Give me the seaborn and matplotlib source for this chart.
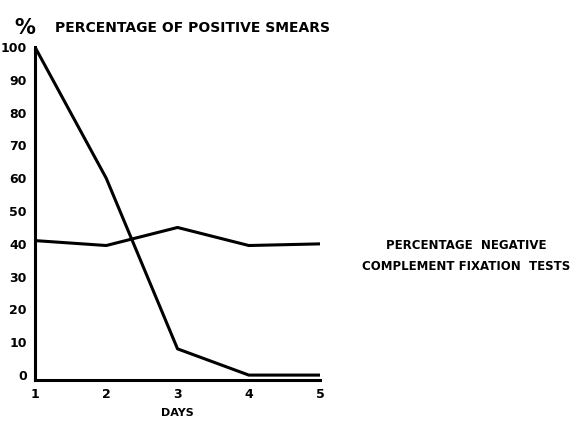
import pandas as pd
import seaborn as sns
import matplotlib.pyplot as plt

plt.switch_backend('Agg')

# Data
days = [1, 2, 3, 4, 5]
positive_smears = [100, 60, 8, 0, 0]
negative_cf_tests = [41, 39.5, 45, 39.5, 40]
y_ticks = [0, 10, 20, 30, 40, 50, 60, 70, 80, 90, 100]

df = pd.DataFrame({
    'Day': days * 2,
    'Percent': positive_smears + negative_cf_tests,
    'Series': ['Positive smears'] * 5 + ['Negative CF tests'] * 5,
})

sns.set_style('white')
plt.rcParams['font.family'] = ['DejaVu Sans']
plt.rcParams['text.color'] = 'black'
plt.rcParams['xtick.color'] = 'black'
plt.rcParams['ytick.color'] = 'black'
plt.rcParams['axes.labelcolor'] = 'black'

fig = plt.figure(figsize=(5.83, 4.22), dpi=100)
ax = fig.add_axes([0.060, 0.0995, 0.489, 0.789])

sns.lineplot(data=df, x='Day', y='Percent', units='Series', estimator=None,
             color='black', linewidth=2.2, ax=ax, legend=False)

ax.set_xlim(1, 5)
ax.set_ylim(-1.5, 100)
ax.set_xticks(days)
ax.set_xticklabels([str(d) for d in days], fontsize=9, fontweight='bold')
ax.set_yticks(y_ticks)
ax.set_yticklabels([str(t) for t in y_ticks], fontsize=9, fontweight='bold')
ax.tick_params(length=0, pad=6)
ax.set_xlabel('DAYS', fontsize=8, fontweight='bold', labelpad=5)
ax.set_ylabel('')

for side in ['top', 'right']:
    ax.spines[side].set_visible(False)
for side in ['left', 'bottom']:
    ax.spines[side].set_color('black')
    ax.spines[side].set_linewidth(2.2)

fig.text(0.024, 0.933, '%', fontsize=15, fontweight='bold', va='center', ha='left')
fig.text(0.094, 0.934, 'PERCENTAGE OF POSITIVE SMEARS', fontsize=10,
         fontweight='bold', va='center', ha='left')
fig.text(0.800, 0.393, 'PERCENTAGE  NEGATIVE\nCOMPLEMENT FIXATION  TESTS',
         fontsize=8.5, fontweight='bold', va='center', ha='center',
         linespacing=1.75)

fig.savefig('out.png', dpi=100, facecolor='white')
plt.close()
